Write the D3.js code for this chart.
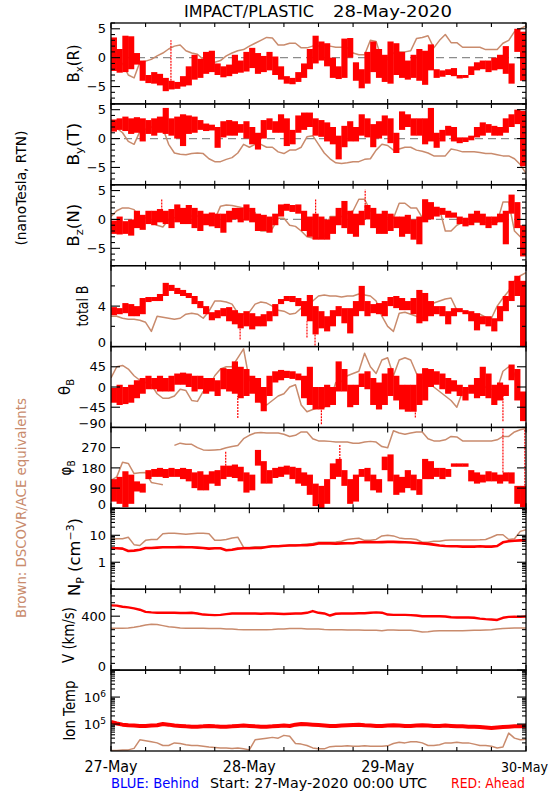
<!DOCTYPE html>
<html><head><meta charset="utf-8">
<script src="https://cdn.jsdelivr.net/npm/d3@7/dist/d3.min.js"></script>
<style>html,body{margin:0;padding:0;background:#fff}text{font-family:"DejaVu Sans",sans-serif}</style>
</head><body><svg id="chart" width="550" height="800"></svg>
<script>
// ---------- time axis ----------
const dayLabels = ["27-May","28-May","29-May","30-May"];
const dayHours = [0,24,48,72];
const minorHours = [6,12,18,30,36,42,54,60,66];

// ---------- Bx (R) ----------
const bxRedHi = [3.5,1.5,3.8,3.7,0.8,-0.5,-3.0,-2.5,-2.8,-3.5, -4.0,-4.2,-3.2,-1.5,0.5,-0.2,1.0,1.2,-1.0,-1.5, -1.2,0.5,-0.5,1.0,1.7,0.8,0.3,1.0,0.2,-1.5, -3.2,-3.5,-2.5,-1.0,1.5,3.8,2.8,2.5,0.0,-1.5, 3.3,3.4,-0.8,-2.0,1.0,2.8,1.5,0.5,2.8,2.5, 1.0,-0.5,0.5,1.5,1.2,2.3,-2.0,-2.2,-2.0,-1.8, -3.0,-3.0,-1.5,-0.8,-0.5,-0.5,0.0,0.5,2.0,-1.0, 5.0,4.5];
const bxRedLo = [-2.3,-2.6,-2.5,-2.0,-1.2,-4.0,-4.4,-4.5,-4.8,-5.8, -5.5,-5.4,-5.0,-4.8,-3.8,-3.5,-2.8,-2.5,-3.0,-3.4, -3.2,-2.8,-2.6,-2.4,-1.8,-2.8,-2.5,-2.2,-3.0,-3.8, -4.5,-4.6,-4.2,-3.5,-2.0,-1.0,-0.5,-1.5,-3.5,-3.7, -3.5,0.0,-4.0,-5.3,-4.5,-2.5,-3.5,-4.2,-4.5,-3.0, -3.5,-3.8,-3.5,-4.0,-4.7,-2.2,-3.5,-3.3,-3.0,-3.2, -3.6,-3.5,-3.0,-2.2,-2.0,-2.5,-2.2,-2.0,-2.8,-4.5, 1.0,-4.0];
const bxSpikes = [[10.4,-4.5,3.0]];
const bxBrown = [-1.5,-1.0,-1.0,-3.0,-3.5,-0.8,-0.6,-0.3,0.3,0.8, 1.5,2.0,2.2,1.2,0.8,0.6,-0.3,-0.6,-0.8,-0.5, 0.3,0.8,1.2,1.4,2.0,2.5,3.0,3.5,3.4,2.2, 2.2,2.5,2.5,1.7,1.7,2.0,2.0,2.2,2.0,1.8, 1.8,1.7,0.8,0.5,0.5,3.0,2.8,-0.3,-0.3,0.8, 1.0,1.0,1.2,3.3,3.5,3.8,1.7,3.0,4.0,2.6, 2.6,1.8,1.8,1.8,1.8,1.4,1.4,1.4,2.5,3.0, 4.5,5.0,5.5];

// ---------- By (T) ----------
const byRedHi = [3.3,3.5,3.8,3.5,3.7,3.5,3.2,3.5,3.8,5.3, 3.5,3.8,4.2,4.0,3.8,3.2,2.6,2.4,2.0,3.0, 3.2,3.0,2.5,3.0,2.0,1.0,3.2,3.5,3.0,4.2, 3.5,1.5,4.0,4.5,4.5,3.5,3.2,2.8,2.0,0.5, 2.2,3.0,2.0,4.2,3.5,2.5,3.0,4.0,3.5,1.0, 4.7,4.2,3.5,3.5,3.5,5.3,1.0,1.5,2.2,2.0, 0.2,0.2,0.5,2.0,2.8,2.5,2.2,2.0,3.5,4.2, 5.0,4.8];
const byRedLo = [1.2,1.5,1.3,0.8,1.0,-0.5,0.8,0.5,1.0,0.8, 0.5,0.0,-1.3,0.8,1.0,1.5,1.3,1.4,-1.6,0.2, 0.5,0.5,1.0,0.0,-1.0,-1.9,0.0,1.5,1.0,1.0, -1.3,-1.0,1.0,1.5,2.0,0.5,0.3,-0.5,-1.0,-3.6, -1.5,-0.5,-0.5,0.5,0.2,-1.5,0.0,0.5,-0.8,-2.5, 1.5,2.0,0.5,0.5,-1.0,-0.5,-1.6,-0.5,0.5,-0.5, -0.8,-0.6,-0.3,0.2,0.5,1.0,0.5,0.5,1.0,2.0, 2.5,-4.8];
const bySpikes = [];
const byBrown = [2.0,1.8,1.0,-0.5,-1.0,1.2,1.6,2.0,2.0,1.8, -1.0,-2.5,-2.7,-2.8,-2.6,-2.5,-2.6,-3.5,-4.0,-4.0, -3.6,-3.3,-2.5,-1.0,-1.5,-1.0,-1.0,-1.5,-1.5,-2.3, -2.6,-2.0,-2.0,-1.5,0.3,0.5,-1.0,-2.5,-3.5,-4.2, -4.3,-4.2,-4.0,-4.0,-3.6,-3.5,-2.0,-1.0,-1.2,-2.0, -1.8,-1.5,-1.5,-2.0,-2.2,-2.5,-3.0,-3.0,-3.0,-1.8, -2.0,-2.3,-2.3,-2.3,-2.4,-2.6,-2.6,-2.8,-3.0,-3.0, -3.5,-4.5,-6.0];

// ---------- Bz (N) ----------
const bzRedHi = [-0.2,0.5,-0.3,0.0,1.5,0.8,1.5,1.5,1.8,1.5, 1.8,2.6,2.0,2.5,2.0,1.5,1.0,1.2,1.0,1.0, 1.5,2.0,2.0,2.6,2.0,1.0,0.8,0.5,1.0,2.6, 2.7,2.5,2.6,1.5,0.5,1.0,0.5,0.0,0.5,2.0, 3.2,1.5,1.0,1.5,2.5,2.0,1.0,1.5,1.0,0.5, 0.5,0.8,0.0,0.5,3.5,3.0,2.2,2.0,1.5,1.2, 0.5,0.3,1.0,1.5,1.0,0.5,0.5,1.0,1.5,4.3, 3.0,-1.0];
const bzRedLo = [-2.5,-2.6,-2.5,-2.8,-1.5,-1.8,-0.8,-1.0,-0.5,-0.8, -1.5,-0.5,-0.8,-0.8,-1.5,-2.0,-1.0,-1.2,-1.5,-2.3, -0.5,0.0,-0.5,-0.2,-0.5,-2.0,-2.0,-2.3,-1.0,0.5, 1.5,1.3,1.0,-2.0,-3.0,-3.5,-3.5,-3.5,-2.5,-1.0, -1.5,-2.5,-3.0,-1.0,0.0,-1.5,-2.5,-2.5,-2.0,-1.5, -3.0,-2.5,-3.5,-4.3,-0.5,0.0,0.5,0.8,0.3,0.3, -0.8,-1.2,-1.0,-0.5,-1.0,-1.5,-1.0,-0.5,-4.3,1.0, -1.5,-6.4];
const bzSpikes = [[8.8,0.5,3.5],[35.5,0.0,3.5],[44.1,1.5,5.2]];
const bzBrown = [0.5,1.5,2.0,2.0,1.7,0.3,0.3,-0.5,-1.0,-1.3, 0.0,0.3,0.3,0.5,0.6,0.6,0.0,0.0,0.0,2.3, 2.5,2.4,2.2,2.0,1.5,1.2,-2.0,-2.0,-1.6,0.2, 0.2,-1.0,-1.2,-2.0,-3.0,-3.2,-3.2,-3.0,0.5,0.5, 0.5,1.0,1.5,3.5,3.5,1.5,0.5,0.5,0.3,0.2, 2.8,2.8,2.0,2.0,0.3,0.3,1.8,1.8,-2.0,-2.0, -1.0,-0.5,-0.5,-0.5,-0.5,-0.5,-0.5,-0.5,3.0,3.0, -2.0,-3.0,-4.0];

// ---------- total B ----------
const btRedHi = [3.9,3.8,4.3,4.2,4.0,4.8,4.9,4.9,5.2,6.3, 6.1,5.8,5.6,5.3,5.0,4.5,4.0,3.4,3.6,3.8, 3.9,3.6,3.3,3.5,3.3,3.0,3.2,3.5,4.2,4.7, 5.0,5.0,4.8,4.5,5.1,4.0,3.5,3.0,3.6,4.0, 3.8,3.8,4.5,6.0,4.5,4.2,4.3,4.5,4.9,5.0, 4.8,4.5,4.8,5.6,5.3,4.5,4.0,4.0,3.5,3.8, 3.8,3.6,3.5,3.3,3.0,3.0,2.8,4.0,5.0,6.5, 7.0,6.5];
const btRedLo = [3.1,3.2,3.3,3.0,3.0,3.2,4.4,4.5,4.5,5.0, 5.5,5.2,5.0,4.8,4.2,3.8,3.2,2.6,2.8,3.0, 2.5,2.2,1.8,2.0,1.7,2.0,2.0,2.5,3.0,4.2, 4.5,4.4,4.0,3.0,2.5,1.2,1.8,1.5,2.0,3.0, 2.3,1.3,3.0,3.5,3.0,3.3,3.2,3.0,4.0,3.8, 3.6,3.6,3.2,2.3,2.5,3.0,3.2,3.0,2.2,3.0, 3.4,3.2,2.5,1.6,2.2,2.0,1.5,2.5,3.5,4.5, 5.0,0.0];
const btSpikes = [[22.4,0.7,2.0],[34.0,0.9,2.5],[35.4,0.1,1.2]];
const btBrown = [3.0,3.0,2.8,2.7,2.7,2.6,2.4,1.5,3.0,2.9, 2.8,2.7,2.8,3.2,3.3,3.2,2.8,3.5,4.5,4.5, 4.4,4.2,3.3,3.2,3.4,4.2,4.4,4.3,4.0,3.6, 3.5,3.2,3.3,3.8,4.0,4.5,5.0,5.1,5.0,5.0, 4.9,5.0,5.0,5.2,5.1,5.0,4.5,3.0,2.0,1.5, 3.3,3.4,3.2,3.0,2.8,3.5,4.3,4.5,4.7,4.8, 3.6,3.5,3.3,3.2,3.2,2.9,2.8,4.0,4.8,5.5, 6.5,7.0,7.3];

// ---------- theta B ----------
const thRedHi = [-2,5,0,5,15,20,25,20,25,20, 25,30,32,30,25,25,20,20,15,42, 40,57,45,40,25,20,0,25,35,38, 36,35,30,25,45,0,0,5,0,57, 40,5,5,30,35,20,10,30,42,25, 5,5,5,30,42,40,35,30,20,15, 5,0,5,20,45,30,5,10,5,50, 40,-10];
const thRedLo = [-35,-40,-38,-35,-25,-15,-5,-5,-10,-10, -10,5,5,0,-10,-5,-15,-10,-20,-5, -10,-15,-25,-20,-15,-35,-54,-20,10,15, 20,18,15,-25,-40,-50,-50,-45,-40,-10, -10,-45,-40,0,-5,-40,-50,-40,-20,-30, -50,-55,-55,-40,-30,0,5,-5,-15,-10, -20,-30,-15,-25,-20,-25,-40,-30,-20,15, -30,-76];
const thSpikes = [[22.0,-69,-20],[36.5,-83,-45],[52.8,-68,-50],[68.0,-76,-20]];
const thBrown = [20,45,48,40,25,15,10,5,-15,-25, -25,-20,-5,-8,-30,-32,-10,0,25,40, 45,45,65,85,15,5,-35,-40,-30,-20, -15,0,5,-40,-55,-50,-45,-45,-30,10, 12,25,30,35,75,45,30,60,65,25, 60,65,60,30,20,15,0,-10,-20,-30, -45,-10,-5,-5,-3,0,-5,-5,35,45, 30,-20,-35];

// ---------- phi B ----------
const phRedHi = [130,140,165,150,120,110,170,175,180,175, 180,175,180,175,160,165,150,165,170,190, 190,195,185,160,150,260,210,170,180,185, 190,185,180,160,150,110,100,130,200,220, 170,130,150,175,180,150,130,230,240,150, 140,170,150,130,220,210,180,180,175,200, 200,200,170,160,150,165,160,150,160,160, 100,100];
const phRedLo = [30,20,5,20,75,70,130,140,140,135, 140,140,130,120,90,80,80,110,100,130, 140,135,120,70,80,190,110,110,135,140, 150,130,110,100,60,10,0,20,130,140, 100,20,30,140,120,80,70,170,120,60, 70,90,80,60,130,130,140,130,140,185, 185,185,120,110,115,120,120,110,120,110, 20,5];
const phSpikes = [[19.9,190,253],[39.7,220,283],[68.0,160,358],[71.8,100,350]];
const phBrown = [125,140,205,200,155,158,160,115,110,105, null,280,290,285,285,270,260,258,260,262, 270,275,280,310,325,335,338,335,335,335, 330,320,325,340,340,310,300,300,298,295, 295,295,290,290,295,298,295,275,270,345, 335,330,335,340,340,310,300,300,305,320, 318,300,300,300,300,300,300,305,320,320, 340,350,355];

// ---------- plasma ----------
const npRed = [3.3,3.3,3.2,2.6,2.7,2.9,3.4,3.4,3.5,3.6, 3.6,3.6,3.7,3.6,3.6,3.5,3.4,3.2,3.3,3.3, 2.8,2.9,3.2,3.3,3.3,3.4,3.4,3.7,3.9,3.9, 4.1,4.2,4.2,4.3,4.3,4.5,5.0,5.0,5.0,4.9, 5.0,5.1,5.1,5.5,5.6,5.6,5.5,5.6,5.7,5.7, 5.6,5.5,5.4,5.2,5.0,4.8,4.5,4.2,4.0,3.9, 3.9,3.8,3.8,3.8,3.9,3.8,3.8,4.0,5.5,6.0, 6.3,6.5,6.5];
const npBrown = [7.0,7.5,7.5,8.5,4.5,4.2,6.5,7.0,7.0,11.5, 12.0,12.0,11.5,11.0,11.5,12.0,12.0,11.5,6.5,6.5, 7.0,8.0,8.5,3.6,3.5,3.8,3.8,3.8,4.0,4.0, 4.0,4.5,4.5,4.6,4.8,5.0,5.5,5.5,5.5,5.6, 6.0,7.0,7.5,7.8,6.5,6.5,7.0,9.5,10.0,9.5, 8.0,7.5,7.5,7.0,5.5,5.5,6.0,6.0,6.5,6.7, 6.7,6.7,6.7,6.7,6.8,7.0,8.5,10.5,10.5,7.0, 7.5,14.0,16.0];
const vRed = [480,478,470,465,458,448,432,428,426,425, 425,425,424,424,425,420,412,410,408,410, 415,420,420,420,421,420,418,420,420,418, 416,418,420,420,425,438,425,420,405,418, 420,420,420,422,422,425,428,426,412,410, 410,410,408,405,400,400,400,400,398,392, 390,390,390,388,382,378,375,372,388,395, 396,395,398];
const vBrown = [310,310,310,312,318,325,335,340,338,330, 322,318,312,310,310,310,310,308,308,308, 305,305,302,300,300,300,300,300,302,305, 305,308,308,308,305,305,305,302,300,300, 300,298,298,298,296,296,296,292,298,298, 296,296,296,290,282,285,290,292,292,292, 292,292,294,295,295,298,300,305,308,310, 312,312,312];
const tRed = [120000,105000,95000,90000,88000,85000,85000,88000,90000,100000, 95000,88000,85000,82000,80000,80000,82000,85000,82000,80000, 80000,82000,85000,88000,85000,82000,80000,80000,82000,85000, 88000,85000,95000,100000,98000,95000,92000,88000,85000,85000, 88000,90000,92000,95000,90000,88000,85000,85000,88000,90000, 88000,85000,85000,88000,90000,88000,85000,85000,88000,85000, 82000,82000,80000,80000,78000,75000,72000,75000,78000,80000, 82000,82000,85000];
const tBrown = [10500,10500,11000,11000,12500,26000,24000,22000,20000,16000, 16000,20000,19000,17000,16000,16000,15000,14000,13500,13000, 13000,12500,13000,12000,11000,26000,28000,30000,32000,30000, 38000,35000,19000,18000,16000,13000,12000,12000,14500,15000, 15000,15500,15000,15000,15500,15000,15000,15000,15500,19000, 21000,20000,22000,22000,20000,16000,16000,17000,20000,20000, 21000,20000,20000,18000,16000,16000,15000,13000,14000,46000, 30000,26000,27000];

// ---------- y ticks ----------
const bTicks = [-5,0,5], bTickLabels = ["−5","0","5"], bMinor = [-8,-7,-6,-4,-3,-2,-1,1,2,3,4,6];
const btTicks = [0,4], btTickLabels = ["0","4"], btMinor = [2,6,8];
const thTicks = [-90,-45,0,45], thTickLabels = ["−90","−45","0","45"], thMinor = [90];
const phTicks = [0,90,180,270], phTickLabels = ["0","90","180","270"], phMinor = [360];
const npTicks = [1,10], npTickLabels = ["1","10"], npMinor = [0.1,0.2,0.3,0.4,0.5,0.6,0.7,0.8,0.9,2,3,4,5,6,7,8,9,20,30,40,50,60,70,80,90,100];
const vTicks = [0,400], vTickLabels = ["0","400"], vMinor = [50,100,150,200,250,300,350,450,500,550,600];
const tTicks = [1e5,1e6], tTickLabels = [["10","5"],["10","6"]], tMinor = [2e4,3e4,4e4,5e4,6e4,7e4,8e4,9e4,2e5,3e5,4e5,5e5,6e5,7e5,8e5,9e5,2e6,3e6,4e6,5e6,6e6,7e6,8e6,9e6];

// ---------- drawing ----------
const RED = "#ff0000", BROWN = "#c98b6d", BLUE = "#0000ff";
const svg = d3.select("#chart");
const X0 = 111, X1 = 526, TOP = 23, BOT = 751, NP = 9;
const PH = (BOT - TOP) / NP;
const x = d3.scaleLinear().domain([0, 72]).range([X0, X1]);
const hoursOf = n => d3.range(n);

const panels = [
  {dom:[-8,6], log:false, hi:bxRedHi, lo:bxRedLo, spikes:bxSpikes, brown:bxBrown, zero:true, ticks:bTicks, labels:bTickLabels, minor:bMinor,
   title:[["B"],["x","sub"],["(R)"]], tx:79, tlen:38},
  {dom:[-8,6], log:false, hi:byRedHi, lo:byRedLo, spikes:bySpikes, brown:byBrown, zero:true, ticks:bTicks, labels:bTickLabels, minor:bMinor,
   title:[["B"],["y","sub"],["(T)"]], tx:79, tlen:43},
  {dom:[-8,6], log:false, hi:bzRedHi, lo:bzRedLo, spikes:bzSpikes, brown:bzBrown, zero:true, ticks:bTicks, labels:bTickLabels, minor:bMinor,
   title:[["B"],["z","sub"],["(N)"]], tx:79, tlen:43},
  {dom:[0,8], log:false, hi:btRedHi, lo:btRedLo, spikes:btSpikes, brown:btBrown, ticks:btTicks, labels:btTickLabels, minor:btMinor,
   title:[["total B"]], tx:88, tlen:41},
  {dom:[-90,90], log:false, hi:thRedHi, lo:thRedLo, spikes:thSpikes, brown:thBrown, ticks:thTicks, labels:thTickLabels, minor:thMinor,
   title:[["θ"],["B","sub"]], tx:70, tlen:16},
  {dom:[0,360], log:false, hi:phRedHi, lo:phRedLo, spikes:phSpikes, brown:phBrown, ticks:phTicks, labels:phTickLabels, minor:phMinor,
   title:[["φ"],["B","sub"]], tx:71, tlen:15},
  {dom:[0.1,100], log:true, red:npRed, rw:2.6, brown:npBrown, ticks:npTicks, labels:npTickLabels, minor:npMinor,
   title:[["N"],["P","sub"],[" (cm"],["−3","sup"],[")"]], tx:80, tlen:78, tcy:557},
  {dom:[0,600], log:false, red:vRed, rw:2.4, brown:vBrown, ticks:vTicks, labels:vTickLabels, minor:vMinor,
   title:[["V (km/s)"]], tx:74, tlen:56, tcy:635},
  {dom:[1e4,1e7], log:true, red:tRed, rw:4, brown:tBrown, ticks:tTicks, labels:tTickLabels, minor:tMinor,
   title:[["Ion Temp"]], tx:75, tlen:60}
];

const defs = svg.append("defs");

panels.forEach((p, i) => {
  const top = TOP + i * PH, bot = top + PH;
  const y = (p.log ? d3.scaleLog() : d3.scaleLinear()).domain(p.dom).range([bot, top]);
  const g = svg.append("g");
  const cid = "clip" + i;
  defs.append("clipPath").attr("id", cid).append("rect").attr("x", X0).attr("y", top).attr("width", X1 - X0).attr("height", PH);
  const data = g.append("g").attr("clip-path", `url(#${cid})`);

  if (p.zero) {
    data.append("line").attr("x1", X0).attr("x2", X1).attr("y1", y(0)).attr("y2", y(0))
      .attr("stroke", "#8c8c8c").attr("stroke-width", 1.2).attr("stroke-dasharray", "8,5");
  }
  const bl = d3.line().defined(d => d != null).x((d, j) => x(j * 72 / (p.brown.length - 1))).y(d => y(d));
  data.append("path").attr("d", bl(p.brown)).attr("fill", "none").attr("stroke", BROWN)
    .attr("stroke-width", 1.5).attr("stroke-linejoin", "round");

  if (p.hi) {
    data.selectAll("rect.r").data(hoursOf(p.hi.length)).enter().append("rect")
      .attr("x", j => x(j) - 0.2).attr("width", j => x(j + 1) - x(j) + 0.4)
      .attr("y", j => y(Math.max(p.hi[j], p.lo[j])))
      .attr("height", j => Math.max(1.5, Math.abs(y(p.hi[j]) - y(p.lo[j]))))
      .attr("fill", RED);
    data.selectAll("line.s").data(p.spikes).enter().append("line")
      .attr("x1", d => x(d[0])).attr("x2", d => x(d[0]))
      .attr("y1", d => y(d[1])).attr("y2", d => y(d[2]))
      .attr("stroke", RED).attr("stroke-width", 1.2).attr("stroke-dasharray", "2,1");
  } else {
    const rl = d3.line().x((d, j) => x(j * 72 / (p.red.length - 1))).y(d => y(d));
    data.append("path").attr("d", rl(p.red)).attr("fill", "none").attr("stroke", RED)
      .attr("stroke-width", p.rw).attr("stroke-linejoin", "round");
  }

  g.append("rect").attr("x", X0).attr("y", top).attr("width", X1 - X0).attr("height", PH)
    .attr("fill", "none").attr("stroke", "#000").attr("stroke-width", 1.3);

  const tk = g.append("g").attr("stroke", "#000").attr("stroke-width", 1.1);
  p.ticks.forEach(v => {
    tk.append("line").attr("x1", X0).attr("x2", X0 + 9).attr("y1", y(v)).attr("y2", y(v));
    tk.append("line").attr("x1", X1).attr("x2", X1 - 9).attr("y1", y(v)).attr("y2", y(v));
  });
  p.minor.forEach(v => {
    tk.append("line").attr("x1", X0).attr("x2", X0 + 4).attr("y1", y(v)).attr("y2", y(v));
    tk.append("line").attr("x1", X1).attr("x2", X1 - 4).attr("y1", y(v)).attr("y2", y(v));
  });
  dayHours.forEach(h => {
    tk.append("line").attr("x1", x(h)).attr("x2", x(h)).attr("y1", top).attr("y2", top + 5);
    tk.append("line").attr("x1", x(h)).attr("x2", x(h)).attr("y1", bot).attr("y2", bot - 5);
  });
  minorHours.forEach(h => {
    tk.append("line").attr("x1", x(h)).attr("x2", x(h)).attr("y1", top).attr("y2", top + 4);
    tk.append("line").attr("x1", x(h)).attr("x2", x(h)).attr("y1", bot).attr("y2", bot - 4);
  });

  p.ticks.forEach((v, k) => {
    const ly = Math.min(y(v), bot - 4);
    const t = g.append("text").attr("x", 106).attr("y", ly).attr("dy", "0.36em")
      .attr("text-anchor", "end").attr("font-size", 13).attr("fill", "#000");
    const lab = p.labels[k];
    if (Array.isArray(lab)) {
      t.append("tspan").text(lab[0]);
      t.append("tspan").attr("dy", -5).attr("font-size", 9).text(lab[1]);
    } else t.text(lab);
  });

  const cy = p.tcy || (top + PH / 2);
  const tt = g.append("text").attr("transform", `translate(${p.tx},${cy}) rotate(-90)`)
    .attr("text-anchor", "middle").attr("font-size", 15).attr("fill", "#000")
    .attr("textLength", p.tlen).attr("lengthAdjust", "spacingAndGlyphs");
  let shift = 0;
  p.title.forEach(seg => {
    const s = tt.append("tspan").text(seg[0]);
    let target = 0;
    if (seg[1] === "sub") { target = 4; s.attr("font-size", 10); }
    if (seg[1] === "sup") { target = -6; s.attr("font-size", 10); }
    if (target !== shift) { s.attr("dy", target - shift); shift = target; }
  });
});

svg.append("text").attr("x", 184).attr("y", 17).attr("font-size", 16).attr("textLength", 130)
  .attr("lengthAdjust", "spacingAndGlyphs").text("IMPACT/PLASTIC");
svg.append("text").attr("x", 333).attr("y", 17).attr("font-size", 16).attr("textLength", 119)
  .attr("lengthAdjust", "spacingAndGlyphs").text("28-May-2020");

dayLabels.forEach((d, k) => {
  const last = k === dayLabels.length - 1;
  svg.append("text").attr("x", last ? 548 : x(dayHours[k])).attr("y", 772)
    .attr("text-anchor", last ? "end" : "middle")
    .attr("font-size", last ? 13.5 : 15).attr("textLength", last ? 47 : 53)
    .attr("lengthAdjust", "spacingAndGlyphs").text(d);
});

svg.append("text").attr("x", 111).attr("y", 788).attr("font-size", 14.5).attr("fill", BLUE)
  .attr("textLength", 88).attr("lengthAdjust", "spacingAndGlyphs").text("BLUE: Behind");
svg.append("text").attr("x", 210).attr("y", 788).attr("font-size", 14.5)
  .attr("textLength", 217).attr("lengthAdjust", "spacingAndGlyphs").text("Start: 27-May-2020 00:00 UTC");
svg.append("text").attr("x", 451).attr("y", 788).attr("font-size", 14.5).attr("fill", RED)
  .attr("textLength", 74).attr("lengthAdjust", "spacingAndGlyphs").text("RED: Ahead");

svg.append("text").attr("transform", "translate(26,188) rotate(-90)").attr("text-anchor", "middle")
  .attr("font-size", 14.5).attr("textLength", 115).attr("lengthAdjust", "spacingAndGlyphs").text("(nanoTesla, RTN)");
svg.append("text").attr("transform", "translate(26,508) rotate(-90)").attr("text-anchor", "middle")
  .attr("font-size", 14.5).attr("fill", BROWN).attr("textLength", 220).attr("lengthAdjust", "spacingAndGlyphs")
  .text("Brown: DSCOVR/ACE equivalents");
</script></body></html>
